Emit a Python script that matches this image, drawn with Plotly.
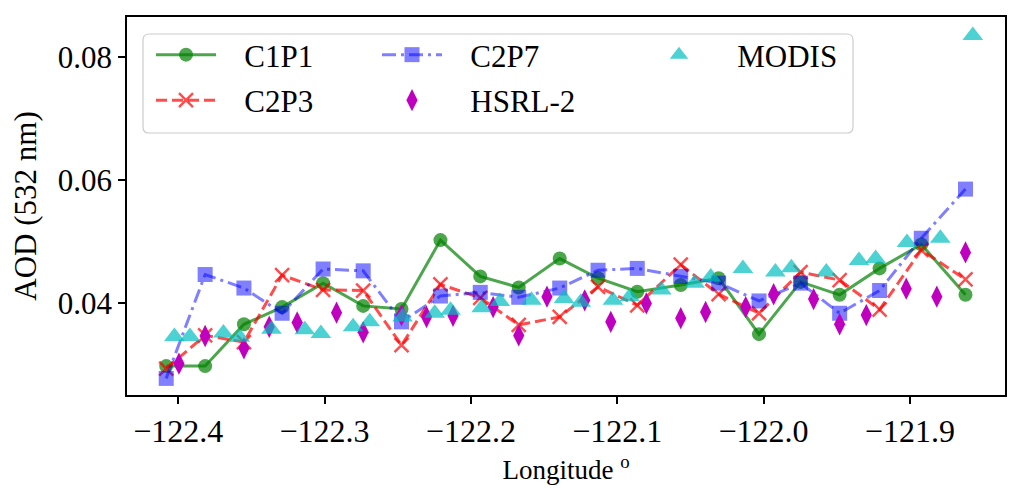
import plotly.graph_objects as go

# ---- data ----
model_lon = [-122.4082, -122.3816, -122.3551, -122.3290, -122.3010, -122.2736, -122.2474,
             -122.2208, -122.1936, -122.1673, -122.1393, -122.1131, -122.0863, -122.0566,
             -122.0307, -122.0031, -121.9747, -121.9480, -121.9207, -121.8922, -121.8620]
c1p1 = [0.0297, 0.0297, 0.0365, 0.0393, 0.0432, 0.0395, 0.0390, 0.0502, 0.0443, 0.0425,
        0.0472, 0.0440, 0.0418, 0.0429, 0.0440, 0.0349, 0.0434, 0.0413, 0.0456, 0.0495, 0.0413]
c2p3 = [0.0293, 0.0347, 0.0336, 0.0445, 0.0421, 0.0420, 0.0331, 0.0430, 0.0408, 0.0364,
        0.0377, 0.0426, 0.0396, 0.0462, 0.0414, 0.0383, 0.0450, 0.0437, 0.0389, 0.0486, 0.0438]
c2p7 = [0.0277, 0.0446, 0.0424, 0.0383, 0.0455, 0.0452, 0.0369, 0.0411, 0.0417, 0.0409,
        0.0424, 0.0453, 0.0456, 0.0443, 0.0432, 0.0403, 0.0432, 0.0383, 0.0420, 0.0505, 0.0585]

hsrl_lon = [-122.3995, -122.3816, -122.3551, -122.3378, -122.3187, -122.2918, -122.2736,
            -122.2474, -122.2303, -122.2122, -122.1848, -122.1673, -122.1480, -122.1222,
            -122.1044, -122.0801, -122.0566, -122.0396, -122.0122, -121.9931, -121.9658,
            -121.9480, -121.9298, -121.9025, -121.8816, -121.8620]
hsrl_aod = [0.0301, 0.0346, 0.0326, 0.0361, 0.0368, 0.0384, 0.0352, 0.0380, 0.0377, 0.0379,
            0.0393, 0.0347, 0.0410, 0.0404, 0.0369, 0.0399, 0.0375, 0.0385, 0.0393, 0.0414,
            0.0406, 0.0365, 0.0380, 0.0423, 0.0410, 0.0482]

modis_lon = [-122.4026, -122.3920, -122.3691, -122.3579, -122.3363, -122.3135, -122.3025,
             -122.2805, -122.2691, -122.2467, -122.2247, -122.2139, -122.1926, -122.1802,
             -122.1586, -122.1363, -122.1249, -122.1029, -122.0915, -122.0698, -122.0471,
             -122.0361, -122.0141, -121.9919, -121.9810, -121.9571, -121.9348, -121.9234,
             -121.9020, -121.8792, -121.8570]
modis_aod = [0.0345, 0.0345, 0.0351, 0.0344, 0.0357, 0.0356, 0.0350, 0.0361, 0.0369, 0.0377,
             0.0383, 0.0388, 0.0392, 0.0402, 0.0404, 0.0407, 0.0401, 0.0404, 0.0410, 0.0421,
             0.0432, 0.0442, 0.0456, 0.0450, 0.0457, 0.0450, 0.0469, 0.0472, 0.0498, 0.0505,
             0.0835]

x_ticks = [-122.4, -122.3, -122.2, -122.1, -122.0, -121.9]
x_tick_labels = ["\u2212122.4", "\u2212122.3", "\u2212122.2", "\u2212122.1", "\u2212122.0", "\u2212121.9"]
y_ticks = [0.04, 0.06, 0.08]
y_tick_labels = ["0.04", "0.06", "0.08"]

FONT = "Liberation Serif, Times New Roman, serif"
NB = "\u00a0"

fig = go.Figure()

fig.add_trace(go.Scatter(
    x=model_lon, y=c1p1, name=NB * 3 + "C1P1", mode="lines+markers", legend="legend",
    showlegend=True,
    line=dict(color="rgba(0,128,0,0.7)", width=3),
    marker=dict(symbol="circle", size=14, color="rgba(0,128,0,0.7)"),
))
fig.add_trace(go.Scatter(
    x=model_lon, y=c2p3, name=NB * 3 + "C2P3", mode="lines+markers", legend="legend2",
    showlegend=True,
    line=dict(color="rgba(255,0,0,0.7)", width=3, dash="11px,5px"),
    marker=dict(symbol="x-thin", size=14, color="rgba(255,0,0,0.7)",
                line=dict(color="rgba(255,0,0,0.7)", width=2.5)),
))
fig.add_trace(go.Scatter(
    x=model_lon, y=c2p7, name=NB * 3 + "C2P7", mode="lines+markers", legend="legend3",
    showlegend=True,
    line=dict(color="rgba(0,0,255,0.5)", width=3, dash="14px,5px,3px,5px"),
    marker=dict(symbol="square", size=15, color="rgba(0,0,255,0.5)"),
))
fig.add_trace(go.Scatter(
    x=hsrl_lon, y=hsrl_aod, name=NB * 3 + "HSRL-2", mode="markers", legend="legend4",
    showlegend=True,
    marker=dict(symbol="diamond-tall", size=16, color="rgb(191,0,191)"),
))
fig.add_trace(go.Scatter(
    x=modis_lon, y=modis_aod, name=NB * 3 + "MODIS", mode="markers", legend="legend5",
    showlegend=True,
    marker=dict(symbol="triangle-up", size=18, color="rgba(0,191,191,0.7)"),
))

# The page body adds an 8px offset; the figure is sized so that it fits the window.
OFF = 8
FW, FH = 1033 - OFF, 499 - OFF
# plot-area geometry in window pixels (used only for placement of legend/box)
L, R, T, B = 127, 1005, 17, 395
W, H = R - L, B - T


def px(xp):
    return (xp - L) / W


def py(yp):
    return (B - yp) / H


def leg(xp, yp):
    return dict(x=px(xp), y=py(yp), xanchor="left", yanchor="middle",
                bgcolor="rgba(0,0,0,0)", borderwidth=0, itemwidth=60,
                font=dict(family=FONT, size=31, color="black"))


# legend box (rounded)
bx0, bx1, by0, by1 = px(143), px(853), py(133), py(34)
rx, ry = 6 / W, 6 / H
path = (f"M{bx0+rx},{by0} L{bx1-rx},{by0} Q{bx1},{by0} {bx1},{by0+ry} "
        f"L{bx1},{by1-ry} Q{bx1},{by1} {bx1-rx},{by1} L{bx0+rx},{by1} "
        f"Q{bx0},{by1} {bx0},{by1-ry} L{bx0},{by0+ry} Q{bx0},{by0} {bx0+rx},{by0} Z")

fig.update_layout(
    width=FW, height=FH,
    margin=dict(l=L - OFF, r=1033 - R, t=T - OFF, b=499 - B, autoexpand=False),
    paper_bgcolor="white", plot_bgcolor="white",
    font=dict(family=FONT, color="black"),
    showlegend=True,
    legend=leg(151, 55),
    legend2=leg(151, 100.5),
    legend3=leg(377, 55),
    legend4=leg(377, 100.5),
    legend5=leg(644, 55),
    shapes=[dict(type="path", xref="paper", yref="paper", path=path,
                 line=dict(color="#cccccc", width=1.2), fillcolor="rgba(255,255,255,0.8)",
                 layer="below")],
    xaxis=dict(
        range=[-122.435, -121.835], tickmode="array", tickvals=x_ticks, ticktext=x_tick_labels,
        ticks="outside", ticklen=7, tickwidth=1.5, tickcolor="black",
        showline=True, linecolor="black", linewidth=1.5, mirror=True,
        showgrid=False, zeroline=False,
        tickfont=dict(family=FONT, size=32, color="black"),
        title=dict(text="Longitude <sup>o</sup>", font=dict(family=FONT, size=27, color="black"),
                   standoff=12),
    ),
    yaxis=dict(
        range=[0.0250, 0.0865], tickmode="array", tickvals=y_ticks, ticktext=y_tick_labels,
        ticks="outside", ticklen=7, tickwidth=1.5, tickcolor="black",
        showline=True, linecolor="black", linewidth=1.5, mirror=True,
        showgrid=False, zeroline=False,
        tickfont=dict(family=FONT, size=31, color="black"),
        title=dict(text="AOD (532 nm)", font=dict(family=FONT, size=31, color="black"),
                   standoff=12),
    ),
)

fig.write_html("out.html")
